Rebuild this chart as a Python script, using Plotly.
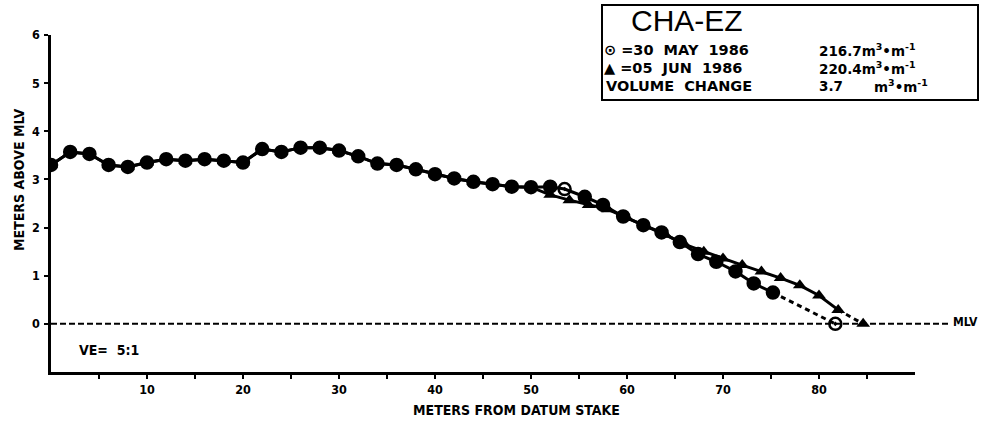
import plotly.graph_objects as go

# Beach profile CHA-EZ, two surveys (metres from datum stake vs metres above MLV)
may_x = [0, 2, 4, 6, 8, 10, 12, 14, 16, 18, 20, 22, 24, 26, 28, 30, 32, 34, 36, 38,
         40, 42, 44, 46, 48, 50, 52, 53.5, 55.6, 57.5, 59.6, 61.7, 63.6, 65.5, 67.4,
         69.3, 71.3, 73.2, 75.2, 81.7]
may_y = [3.30, 3.57, 3.53, 3.30, 3.26, 3.35, 3.42, 3.39, 3.42, 3.39, 3.35, 3.63, 3.57,
         3.66, 3.66, 3.60, 3.48, 3.33, 3.30, 3.21, 3.11, 3.02, 2.95, 2.90, 2.85, 2.84,
         2.85, 2.80, 2.64, 2.47, 2.23, 2.05, 1.90, 1.70, 1.45, 1.29, 1.09, 0.84, 0.65, 0.00]

jun_x = [0, 2, 4, 6, 8, 10, 12, 14, 16, 18, 20, 22, 24, 26, 28, 30, 32, 34, 36, 38,
         40, 42, 44, 46, 48, 50, 52, 54, 56, 58, 60, 62, 64, 66, 68, 70, 72, 74, 76,
         78, 80, 82, 84.6]
jun_y = [3.30, 3.57, 3.53, 3.30, 3.26, 3.35, 3.42, 3.39, 3.42, 3.39, 3.35, 3.63, 3.57,
         3.66, 3.66, 3.60, 3.48, 3.33, 3.30, 3.21, 3.11, 3.02, 2.95, 2.90, 2.85, 2.84,
         2.68, 2.57, 2.47, 2.38, 2.20, 2.02, 1.85, 1.65, 1.50, 1.36, 1.22, 1.09, 0.95,
         0.80, 0.59, 0.29, 0.00]

x_tick_vals = [10, 20, 30, 40, 50, 60, 70, 80]
x_tick_text = ["10", "20", "30", "40", "50", "60", "70", "80"]
x_minor_vals = [5, 15, 25, 35, 45, 55, 65, 75, 85]
y_tick_vals = [0, 1, 2, 3, 4, 5, 6]
y_tick_text = ["0", "1", "2", "3", "4", "5", "6"]

may_open = [53.5, 81.7]

W, H = 985, 424
L, R, T, B = 51, 915, 35, 372
BLACK = "#000000"
TICKFONT = dict(family="DejaVu Sans Condensed, DejaVu Sans", size=12.5, color=BLACK, weight="bold")
LABFONT = dict(family="DejaVu Sans Condensed, DejaVu Sans", size=14, color=BLACK, weight="bold")
BOXFONT = dict(family="DejaVu Sans, sans-serif", size=14.5, color=BLACK, weight="bold")
VALFONT = dict(family="DejaVu Sans, sans-serif", size=13.5, color=BLACK, weight="bold")
UNIT = "m<sup>3</sup>•m<sup>-1</sup>"


def px(x):
    return (x - L) / (R - L)


def py(y):
    return (B - y) / (B - T)


fig = go.Figure()

# profile lines: solid along the surveyed points, dashed to the MLV crossing
for xs, ys in ((jun_x, jun_y), (may_x, may_y)):
    fig.add_trace(go.Scatter(x=xs[:-1], y=ys[:-1], mode="lines",
                             line=dict(color=BLACK, width=3), hoverinfo="skip"))
    fig.add_trace(go.Scatter(x=xs[-2:], y=ys[-2:], mode="lines",
                             line=dict(color=BLACK, width=3, dash="5px,4px"), hoverinfo="skip"))

fig.add_trace(go.Scatter(x=jun_x, y=jun_y, mode="markers", name="05 JUN 1986",
                         marker=dict(symbol="triangle-up", size=12, color=BLACK)))
fig.add_trace(go.Scatter(
    x=may_x, y=may_y, mode="markers", name="30 MAY 1986",
    marker=dict(symbol=["circle-open-dot" if v in may_open else "circle" for v in may_x],
                size=12, color=BLACK, line=dict(color=BLACK, width=2.5))))

# mean low water reference line
fig.add_shape(type="line", xref="paper", yref="y", x0=0, x1=px(948), y0=0, y1=0,
              line=dict(color=BLACK, width=2, dash="6px,3px"))

# survey summary box
fig.add_shape(type="rect", xref="paper", yref="paper", x0=px(602), x1=px(978),
              y0=py(100), y1=py(5), line=dict(color=BLACK, width=2), fillcolor="white")

ann = []


def text(s, x, y, font, xanchor="left", angle=0):
    ann.append(dict(text=s, x=px(x), y=py(y), xref="paper", yref="paper", showarrow=False,
                    xanchor=xanchor, yanchor="middle", font=font, textangle=angle,
                    borderpad=0))


text("CHA-EZ", 630, 21, dict(family="Liberation Sans, sans-serif", size=30, color=BLACK))
text("⊙ =30  MAY  1986", 603, 50, BOXFONT)
text("216.7" + UNIT, 818, 50, VALFONT)
text("▲ =05  JUN  1986", 603, 68, BOXFONT)
text("220.4" + UNIT, 818, 68, VALFONT)
text("VOLUME  CHANGE", 605, 86, BOXFONT)
text("3.7", 818, 86, VALFONT)
text(UNIT, 873, 86, VALFONT)

text("METERS FROM DATUM STAKE", 516, 410, LABFONT, xanchor="center")
text("METERS ABOVE MLV", 19, 180, LABFONT, xanchor="center", angle=-90)
text("VE=  5:1", 78, 350, LABFONT)
text("MLV", 952, 322, dict(family="DejaVu Sans Condensed, DejaVu Sans", size=12,
                           color=BLACK, weight="bold"))

fig.update_layout(
    width=W, height=H,
    margin=dict(l=L, r=W - R, t=T, b=H - B),
    paper_bgcolor="white", plot_bgcolor="white",
    showlegend=False,
    annotations=ann,
    xaxis=dict(range=[0, 90], showgrid=False, zeroline=False, showline=True,
               linecolor=BLACK, linewidth=3, ticks="outside", ticklen=4, tickwidth=2,
               tickcolor=BLACK, tickvals=x_tick_vals, ticktext=x_tick_text,
               minor=dict(tickvals=x_minor_vals, ticks="outside", ticklen=4, tickwidth=2,
                          tickcolor=BLACK, showgrid=False),
               tickfont=TICKFONT, fixedrange=True),
    yaxis=dict(range=[-1, 6], showgrid=False, zeroline=False, showline=True,
               linecolor=BLACK, linewidth=2.5, ticks="outside", ticklen=4, tickwidth=2,
               tickcolor=BLACK, tickvals=y_tick_vals, ticktext=y_tick_text,
               tickfont=TICKFONT, ticklabelstandoff=2, fixedrange=True),
)

fig.write_html("out.html")
